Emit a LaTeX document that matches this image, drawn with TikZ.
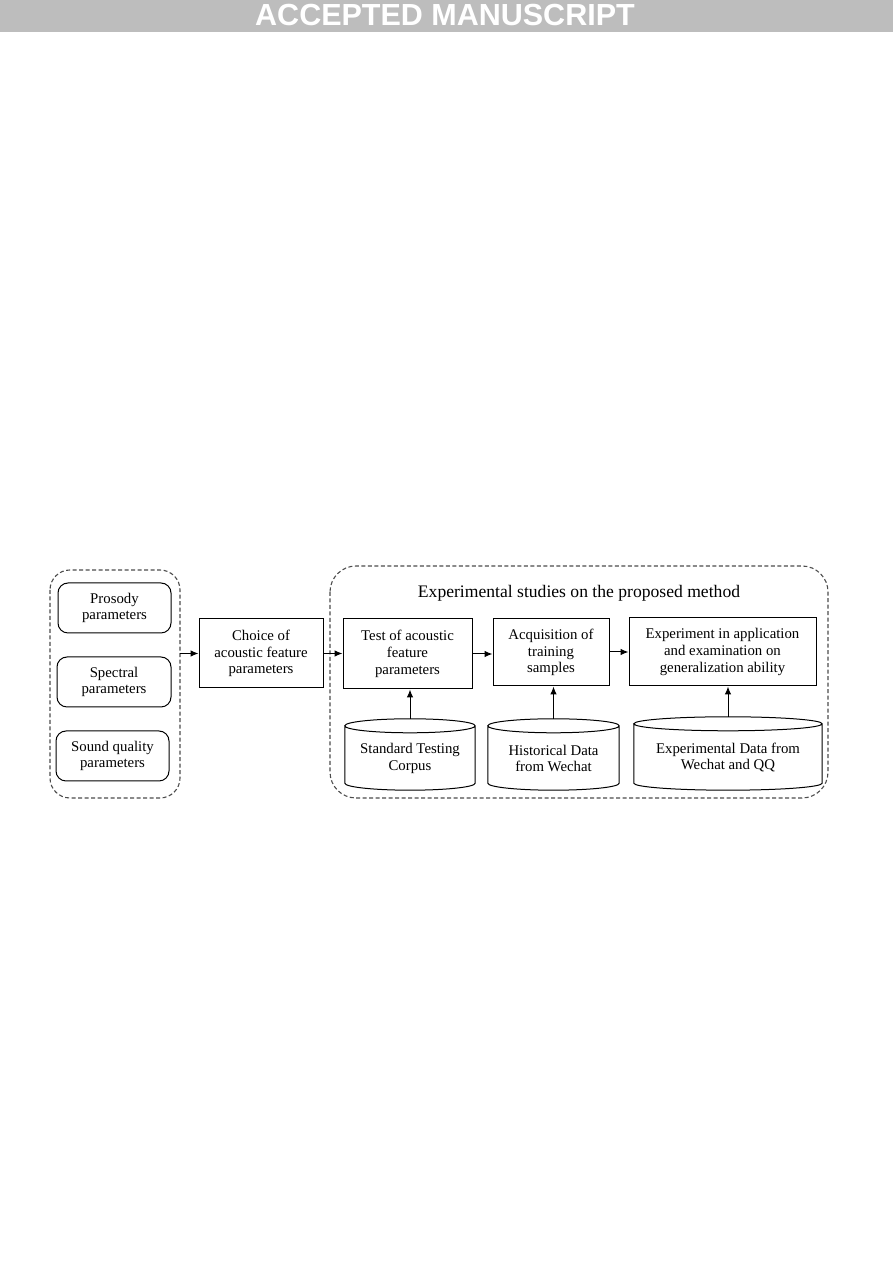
\documentclass[tikz,border=0pt]{standalone}
\usepackage{fontspec}
\setmainfont{Liberation Serif}
\newfontfamily\bannerfont{Liberation Sans}
\usetikzlibrary{arrows.meta,calc}
\begin{document}
\begin{tikzpicture}[x=1pt,y=1pt,
  txt/.style={font=\fontsize{14.8}{16.8}\selectfont, align=center, inner sep=0pt},
  rbox/.style={txt, draw, line width=1pt, rounded corners=10pt},
  sbox/.style={txt, draw, line width=1pt},
  cylbox/.style={txt},
  grp/.style={draw=black!70, dashed, dash pattern=on 4pt off 2.5pt, line width=1.1pt},
  arr/.style={line width=1pt, -{Latex[length=8pt,width=6.5pt]}}
]
\useasboundingbox (0,0) rectangle (893,1263);
% banner
\fill[black!26] (0,1231) rectangle (893,1263);
\node[text=white, font=\bannerfont\bfseries\fontsize{30.5}{30.5}\selectfont, inner sep=0pt] (banner) at (445,1248) {ACCEPTED MANUSCRIPT};

% left group
\draw[grp, rounded corners=20pt] (50,693) rectangle (180,465);
\coordinate (lg) at (180,579);
\node[rbox, minimum width=113pt, minimum height=50pt] (pros) at (114.5,655) {Prosody\\parameters};
\node[rbox, minimum width=114pt, minimum height=50pt] (spec) at (114,581) {Spectral\\parameters};
\node[rbox, minimum width=113pt, minimum height=50pt] (sound) at (112.5,507) {Sound quality\\parameters};

% choice
\node[sbox, minimum width=124pt, minimum height=69pt] (choice) at (261,609.5) {Choice of\\acoustic feature\\parameters};

% right group
\draw[grp, rounded corners=26pt] (330,697) rectangle (828,465);
\node[txt, font=\fontsize{17.6}{20}\selectfont] (title) at (579,670) {Experimental studies on the proposed method};

\node[sbox, minimum width=129pt, minimum height=70pt] (test) at (407.5,609) {Test of acoustic\\feature\\parameters};
\node[sbox, minimum width=116pt, minimum height=67pt] (acq) at (551,610.5) {Acquisition of\\training\\samples};
\node[sbox, minimum width=187pt, minimum height=68pt] (exp) at (722.5,611) {Experiment in application\\and examination on\\generalization ability};

% cylinders (text node centred 4pt below the cylinder's middle)
\node[cylbox, minimum width=130pt, minimum height=71pt] (c1) at (410,504.5) {Standard Testing\\Corpus};
\node[cylbox, minimum width=131pt, minimum height=71pt] (c2) at (553.5,504.5) {Historical Data\\from Wechat};
\node[cylbox, minimum width=188pt, minimum height=73pt] (c3) at (728,505.5) {Experimental Data from\\Wechat and QQ};

\foreach \c in {c1,c2,c3}{
  \draw[line width=1pt] let \p1=(\c.north west), \p2=(\c.south east), \n1={(\x2-\x1)/2} in
    (\x1,\y1-3pt) -- (\x1,\y2+11pt) arc[start angle=180,end angle=360,x radius=\n1,y radius=7pt]
    -- (\x2,\y1-3pt) arc[start angle=0,end angle=360,x radius=\n1,y radius=7pt];
}
\coordinate (c1-top) at ($(c1.north)+(0,4)$);
\coordinate (c2-top) at ($(c2.north)+(0,4)$);
\coordinate (c3-top) at ($(c3.north)+(0,4)$);

% arrows
\draw[arr] (lg |- choice.west) -- (choice.west);
\draw[arr] (choice.east) -- (choice.east -| test.west);
\draw[arr] (test.east) -- (test.east -| acq.west);
\draw[arr] (acq.east |- exp.west) -- (exp.west);
\draw[arr] (c1-top) -- (c1-top |- test.south);
\draw[arr] (c2-top) -- (c2-top |- acq.south);
\draw[arr] (c3-top) -- (c3-top |- exp.south);
\end{tikzpicture}
\end{document}
